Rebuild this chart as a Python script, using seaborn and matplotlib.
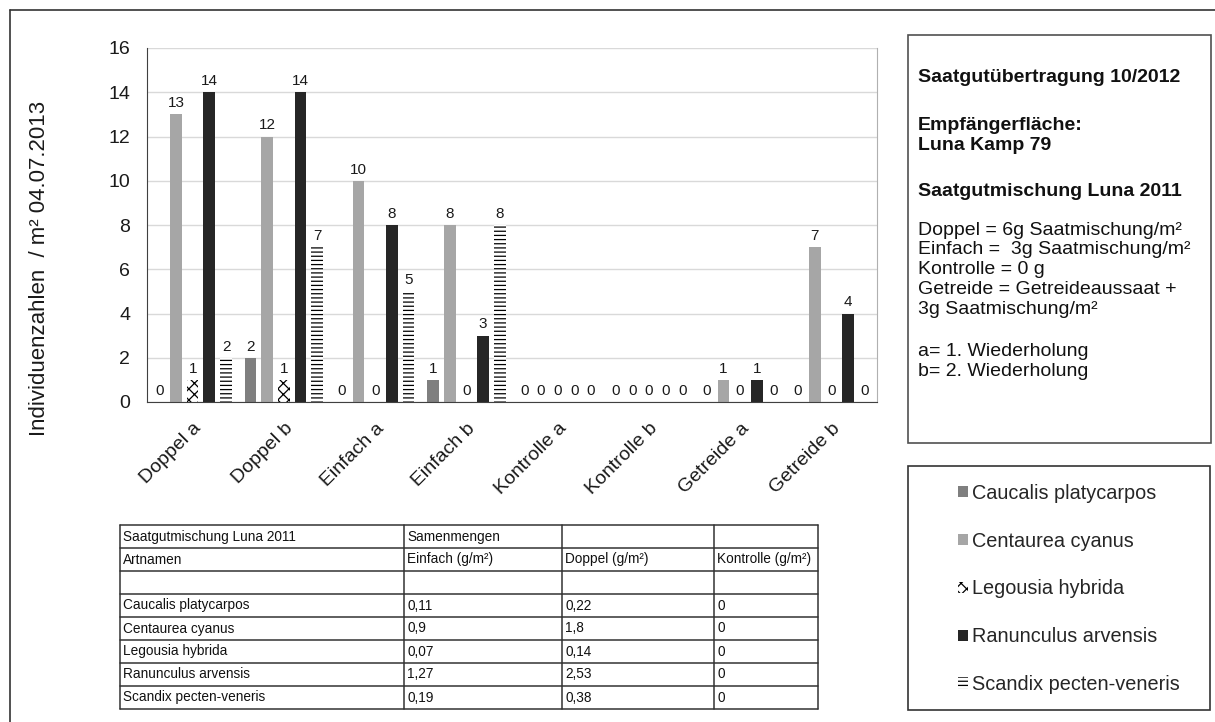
import numpy as np
import pandas as pd
import matplotlib
matplotlib.use('Agg')
import matplotlib.pyplot as plt
from matplotlib.patches import Rectangle, Patch
from matplotlib.lines import Line2D
import seaborn as sns

# Daten: Individuen je m² (04.07.2013)
varianten = ['Doppel a', 'Doppel b', 'Einfach a', 'Einfach b',
             'Kontrolle a', 'Kontrolle b', 'Getreide a', 'Getreide b']
arten = ['Caucalis platycarpos', 'Centaurea cyanus', 'Legousia hybrida',
         'Ranunculus arvensis', 'Scandix pecten-veneris']

caucalis = [0, 2, 0, 1, 0, 0, 0, 0]
centaurea = [13, 12, 10, 8, 0, 0, 1, 7]
legousia = [1, 1, 0, 0, 0, 0, 0, 0]
ranunculus = [14, 14, 8, 3, 0, 0, 1, 4]
scandix = [2, 7, 5, 8, 0, 0, 0, 0]

# Tabelle Saatgutmischung
tab_kopf1 = ['Saatgutmischung Luna 2011', 'Samenmengen', '', '']
tab_kopf2 = ['Artnamen', 'Einfach (g/m²)', 'Doppel (g/m²)', 'Kontrolle (g/m²)']
einfach_g = ['0,11', '0,9', '0,07', '1,27', '0,19']
doppel_g = ['0,22', '1,8', '0,14', '2,53', '0,38']
kontrolle_g = ['0', '0', '0', '0', '0']

farben = ['#7f7f7f', '#a6a6a6', '#ffffff', '#262626', '#ffffff']
muster = [None, None, 'xxx', None, '----']

sns.set_style('white')
plt.rcParams['font.family'] = ['Liberation Sans', 'DejaVu Sans']
plt.rcParams['hatch.linewidth'] = 0.9

W, H = 1215, 722
fig = plt.figure(figsize=(W / 100, H / 100), dpi=100)


def fx(px):
    return px / W


def fy(py):
    return 1 - py / H


ax = fig.add_axes([fx(147), fy(402), fx(877) - fx(147), fy(48) - fy(402)])

df = pd.DataFrame({
    'Variante': varianten * len(arten),
    'Art': np.repeat(arten, len(varianten)),
    'Anzahl': caucalis + centaurea + legousia + ranunculus + scandix,
})
sns.barplot(data=df, x='Variante', y='Anzahl', hue='Art', order=varianten,
            hue_order=arten, palette=farben, saturation=1, width=0.915,
            gap=0.3, errorbar=None, legend=False, ax=ax)

handles = []
for cont, farbe, m in zip(ax.containers, farben, muster):
    for bar in cont:
        bar.set_linewidth(0)
        if m:
            bar.set_facecolor('white')
            bar.set_edgecolor('black')
            bar.set_hatch(m)
    ax.bar_label(cont, fmt='%g', padding=3, fontsize=11, color='#1a1a1a')
    if m:
        handles.append(Patch(facecolor='white', edgecolor='black', hatch=m, linewidth=0))
    else:
        handles.append(Patch(facecolor=farbe, linewidth=0))

ax.set_xlim(-0.5, 7.5)
ax.set_ylim(0, 16)
ax.set_yticks(range(0, 17, 2))
ax.yaxis.grid(True, color='#d9d9d9', linewidth=1)
ax.set_axisbelow(True)
ax.spines['top'].set_visible(False)
ax.spines['right'].set_color('#b0b0b0')
ax.spines['left'].set_color('#404040')
ax.spines['bottom'].set_color('#404040')
ax.tick_params(axis='y', length=6, color='#404040', labelsize=14, pad=6,
               direction='out', labelcolor='#1a1a1a')
ax.set_xticks(range(len(varianten)))
ax.set_xticklabels(varianten, rotation=45, ha='right', va='top',
                   rotation_mode='anchor', fontsize=14, color='#1a1a1a')
ax.tick_params(axis='x', which='major', length=0, pad=13)
ax.set_xticks(np.arange(-0.5, len(varianten), 1), minor=True)
ax.tick_params(axis='x', which='minor', length=10, direction='inout', color='#404040')
ax.set_xlabel('')
ax.set_ylabel('')

fig.text(fx(40), fy(268), 'Individuenzahlen  / m² 04.07.2013', rotation=90,
         ha='center', va='center', fontsize=16, color='#1a1a1a')

# Rahmen des Bildes
fig.add_artist(Line2D([fx(10), 1], [fy(10), fy(10)], color='#333333', lw=1.2))
fig.add_artist(Line2D([fx(10), fx(10)], [fy(10), 0], color='#333333', lw=1.2))

# Textfeld
fig.add_artist(Rectangle((fx(908), fy(443)), fx(1211) - fx(908), (443 - 35) / H,
                         fill=False, edgecolor='#505050', lw=1.2,
                         transform=fig.transFigure))
zeilen = [
    ('Saatgutübertragung 10/2012', 78, 'bold'),
    ('Empfängerfläche:', 126, 'bold'),
    ('Luna Kamp 79', 146, 'bold'),
    ('Saatgutmischung Luna 2011', 191, 'bold'),
    ('Doppel = 6g Saatmischung/m²', 230, 'normal'),
    ('Einfach =  3g Saatmischung/m²', 250, 'normal'),
    ('Kontrolle = 0 g', 270, 'normal'),
    ('Getreide = Getreideaussaat +', 290, 'normal'),
    ('3g Saatmischung/m²', 310, 'normal'),
    ('a= 1. Wiederholung', 351, 'normal'),
    ('b= 2. Wiederholung', 371, 'normal'),
]
for txt, y, w in zeilen:
    fig.text(fx(918), fy(y), txt, ha='left', va='center', fontsize=14,
             fontweight=w, color='#111111')

# Legende
fig.add_artist(Rectangle((fx(908), fy(710)), fx(1210) - fx(908), (710 - 466) / H,
                         fill=False, edgecolor='#333333', lw=1.2,
                         transform=fig.transFigure))
fig.legend(handles, arten, loc='upper left', bbox_to_anchor=(fx(942), fy(468)),
           frameon=False, fontsize=14.3, handlelength=0.5, handleheight=0.5,
           handletextpad=0.2, labelspacing=1.45, borderpad=0.3)

# Tabelle
tab = fig.add_axes([0, 0, 1, 1])
tab.set_xlim(0, W)
tab.set_ylim(H, 0)
tab.axis('off')
spalten = [120, 404, 562, 714, 818]
oben, zh = 525, 23.0
zeilen_tab = [tab_kopf1, tab_kopf2, ['', '', '', '']]
for i, art in enumerate(arten):
    zeilen_tab.append([art, einfach_g[i], doppel_g[i], kontrolle_g[i]])
n = len(zeilen_tab)
for r in range(n + 1):
    tab.plot([spalten[0], spalten[-1]], [oben + r * zh] * 2, color='#333333', lw=1.1)
for c in spalten:
    tab.plot([c, c], [oben, oben + n * zh], color='#333333', lw=1.1)
for r, zeile in enumerate(zeilen_tab):
    for c, txt in enumerate(zeile):
        tab.text(spalten[c] + 3, oben + (r + 0.5) * zh, txt, ha='left',
                 va='center', fontsize=9.8, color='#111111')

fig.savefig('out.png', dpi=100)
